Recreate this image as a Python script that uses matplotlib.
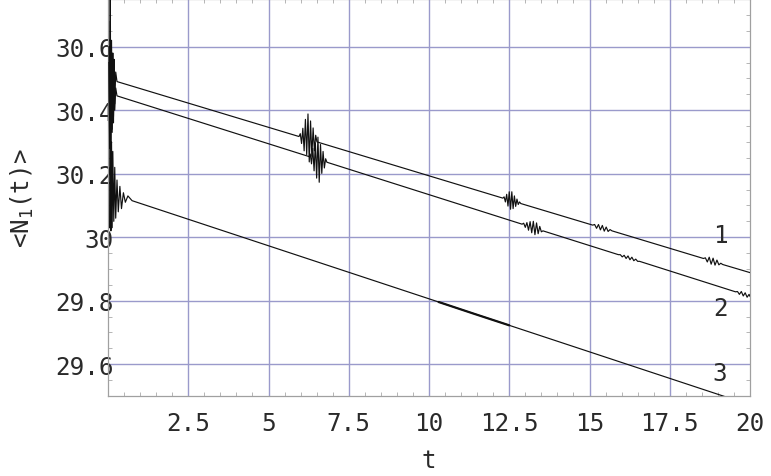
import numpy as np
import matplotlib
matplotlib.use("Agg")
import matplotlib.pyplot as plt
from matplotlib.ticker import MultipleLocator, FixedLocator

# curve 1 vertices (t, <N1>)
t1 = [0.03, 0.05, 0.07, 0.09, 0.11, 0.13, 0.15, 0.17, 0.19, 0.21, 0.24, 0.28,
      5.95, 5.99, 6.03, 6.07, 6.11, 6.15, 6.19, 6.23, 6.27, 6.31, 6.35, 6.39, 6.43, 6.47, 6.51,
      12.30, 12.34, 12.38, 12.42, 12.46, 12.50, 12.54, 12.58, 12.62, 12.66, 12.70, 12.74, 12.78, 12.82, 12.86,
      15.10, 15.16, 15.22, 15.28, 15.34, 15.40, 15.46, 15.52, 15.58, 15.64, 15.70,
      18.55, 18.61, 18.67, 18.73, 18.79, 18.85, 18.91, 18.97, 19.03, 19.09, 19.15,
      20.0]
y1 = [30.60, 30.32, 30.68, 30.30, 30.62, 30.34, 30.58, 30.38, 30.56, 30.42, 30.52, 30.49,
      30.317, 30.326, 30.295, 30.343, 30.272, 30.371, 30.260, 30.388, 30.237, 30.366, 30.255, 30.344, 30.272, 30.321, 30.300,
      30.123, 30.127, 30.111, 30.135, 30.098, 30.143, 30.088, 30.143, 30.090, 30.130, 30.097, 30.120, 30.103, 30.111, 30.106,
      30.038, 30.040, 30.028, 30.040, 30.023, 30.037, 30.019, 30.032, 30.018, 30.024, 30.020,
      29.933, 29.935, 29.922, 29.937, 29.915, 29.934, 29.912, 29.928, 29.913, 29.918, 29.914,
      29.8885]

# curve 2
t2 = [0.03, 0.05, 0.07, 0.09, 0.11, 0.13, 0.15, 0.17, 0.19, 0.21, 0.24, 0.28,
      6.26, 6.30, 6.34, 6.38, 6.42, 6.46, 6.50, 6.54, 6.58, 6.62, 6.66, 6.70, 6.74, 6.78, 6.82,
      12.90, 12.95, 13.00, 13.05, 13.10, 13.15, 13.20, 13.25, 13.30, 13.35, 13.40, 13.45, 13.50, 13.55,
      15.90, 15.96, 16.02, 16.08, 16.14, 16.20, 16.26, 16.32, 16.38, 16.44, 16.50, 16.56,
      19.55, 19.61, 19.67, 19.73, 19.79, 19.85, 19.91, 19.97, 20.0]
y2 = [30.55, 30.28, 30.62, 30.30, 30.58, 30.33, 30.54, 30.36, 30.50, 30.40, 30.47, 30.445,
      30.254, 30.262, 30.231, 30.280, 30.209, 30.297, 30.186, 30.315, 30.173, 30.292, 30.201, 30.270, 30.218, 30.247, 30.236,
      30.041, 30.044, 30.031, 30.046, 30.022, 30.049, 30.014, 30.050, 30.008, 30.045, 30.011, 30.034, 30.017, 30.020,
      29.945, 29.945, 29.938, 29.943, 29.933, 29.941, 29.929, 29.937, 29.926, 29.931, 29.924, 29.924,
      29.828, 29.829, 29.820, 29.829, 29.815, 29.825, 29.811, 29.820, 29.814]

# curve 3
t3 = [0.05, 0.07, 0.09, 0.11, 0.13, 0.15, 0.18, 0.21, 0.24, 0.28, 0.32, 0.37, 0.42, 0.48, 0.54, 0.62, 0.75,
      20.0]
y3 = [30.03, 30.90, 30.02, 30.30, 30.03, 30.27, 30.05, 30.22, 30.06, 30.18, 30.08, 30.16, 30.09, 30.14, 30.11, 30.13, 30.115,
      29.472]
# thicker stretch of curve 3
t3_thick = [10.3, 11.4, 12.5]
y3_thick = [29.796, 29.759, 29.7225]

curve_names = ["1", "2", "3"]
name_t = [19.07, 19.07, 19.07]
name_y = [30.006, 29.776, 29.573]

xticks = [2.5, 5, 7.5, 10, 12.5, 15, 17.5, 20]
xticklabels = ["2.5", "5", "7.5", "10", "12.5", "15", "17.5", "20"]
yticks = [29.6, 29.8, 30.0, 30.2, 30.4, 30.6]
yticklabels = ["29.6", "29.8", "30", "30.2", "30.4", "30.6"]

plt.rcParams["font.family"] = "DejaVu Sans Mono"
plt.rcParams["mathtext.fontset"] = "custom"
plt.rcParams["mathtext.rm"] = "DejaVu Sans Mono"
plt.rcParams["mathtext.it"] = "DejaVu Sans Mono"

fig = plt.figure(figsize=(7.71, 4.77), dpi=100)
ax = fig.add_axes([108 / 771, 80 / 477, 642 / 771, 397 / 477])

grid_col = "#9a9acb"
for gx in xticks[:-1]:
    ax.axvline(gx, color=grid_col, lw=1.0, zorder=1, snap=True)
for gy in yticks:
    ax.axhline(gy, color=grid_col, lw=1.0, zorder=1, snap=True)

ax.plot(t1, y1, color="#111111", lw=0.85, zorder=3)
ax.plot(t2, y2, color="#111111", lw=0.85, zorder=3)
ax.plot(t3, y3, color="#111111", lw=0.85, zorder=3)
ax.plot(t3_thick, y3_thick, color="#111111", lw=1.6, zorder=3, solid_capstyle="round")

for name, tx, ty in zip(curve_names, name_t, name_y):
    ax.text(tx, ty, name, fontsize=17.5, ha="center", va="center", color="#2a2a2a")

ax.set_xlim(0, 20)
ax.set_ylim(29.5, 30.75)

ax.xaxis.set_major_locator(FixedLocator(xticks))
ax.set_xticklabels(xticklabels)
ax.yaxis.set_major_locator(FixedLocator(yticks))
ax.set_yticklabels(yticklabels)
ax.xaxis.set_minor_locator(MultipleLocator(0.5))
ax.yaxis.set_minor_locator(MultipleLocator(0.05))

ax.tick_params(which="both", direction="in", top=True, right=True, color="#aaaaaa")
ax.tick_params(which="major", length=0, labelsize=17.5, labelcolor="#2a2a2a")
ax.tick_params(which="minor", length=3, width=0.6)
ax.tick_params(axis="x", which="major", pad=11)
ax.tick_params(axis="y", which="major", pad=-4)

for sp in ax.spines.values():
    sp.set_color("#a0a0a0")
    sp.set_linewidth(0.9)

ax.set_xlabel("t", fontsize=17.5, color="#2a2a2a", labelpad=9)
ax.set_ylabel(r"<N$_{1}$(t)>", fontsize=17.5, color="#2a2a2a", labelpad=14)

fig.savefig("out.png", dpi=100)
